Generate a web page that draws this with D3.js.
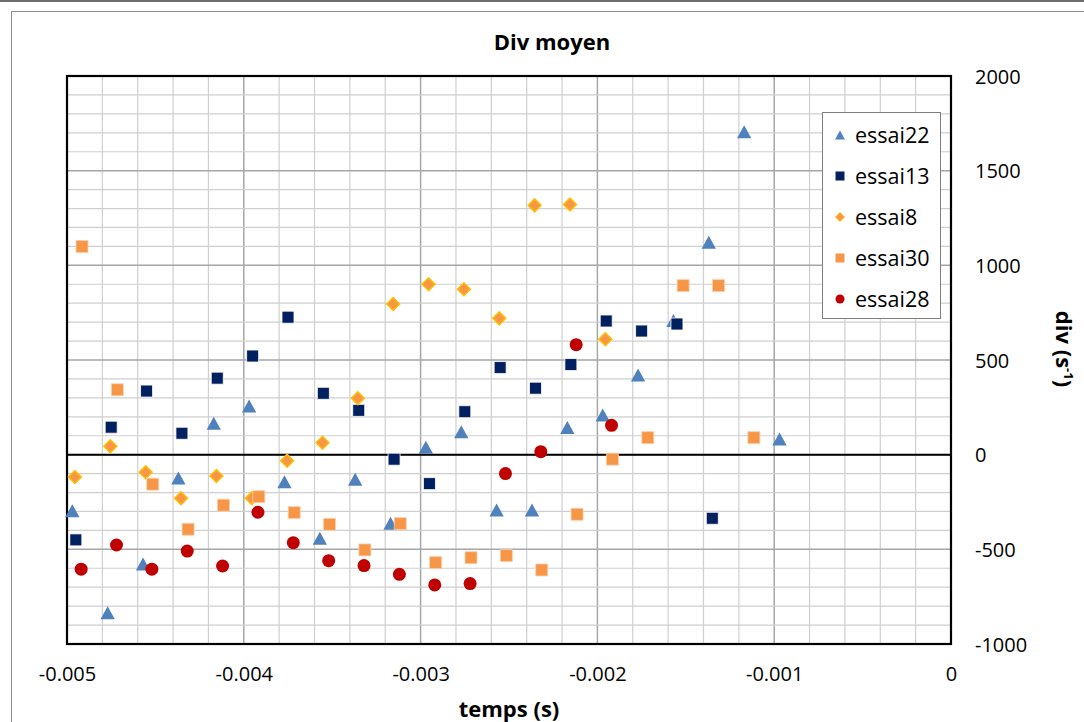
<!DOCTYPE html>
<html>
<head>
<meta charset="utf-8">
<script src="https://cdn.jsdelivr.net/npm/d3@7"></script>
<style>
  html, body { margin: 0; padding: 0; background: #ffffff; }
  svg { display: block; font-family: "Open Sans", "Noto Sans", sans-serif; }
</style>
</head>
<body>
<svg id="chart" width="1084" height="722"></svg>
<script>
// ---------- data ----------
const seriesNames = ["essai22", "essai13", "essai8", "essai30", "essai28"];

const essai22_t = [-0.00497,-0.00477,-0.00457,-0.00437,-0.00417,-0.00397,-0.00377,-0.00357,-0.00337,-0.00317,-0.00297,-0.00277,-0.00257,-0.00237,-0.00217,-0.00197,-0.00177,-0.00157,-0.00137,-0.00117,-0.00097];
const essai22_div = [-296,-835,-577,-123,166,257,-143,-442,-130,-362,39,121,-292,-292,143,210,421,708,1122,1706,83];

const essai13_t = [-0.00495,-0.00475,-0.00455,-0.00435,-0.00415,-0.00395,-0.00375,-0.00355,-0.00335,-0.00315,-0.00295,-0.00275,-0.00255,-0.00235,-0.00215,-0.00195,-0.00175,-0.00155,-0.00135];
const essai13_div = [-450,145,336,113,404,521,726,324,234,-24,-153,227,460,351,476,706,653,690,-336];

const essai8_t = [-0.004955,-0.004755,-0.004555,-0.004355,-0.004155,-0.003955,-0.003755,-0.003555,-0.003355,-0.003155,-0.002955,-0.002755,-0.002555,-0.002355,-0.002155,-0.001955];
const essai8_div = [-118,44,-93,-230,-113,-230,-32,63,298,796,900,874,720,1317,1321,610];

const essai30_t = [-0.004915,-0.004715,-0.004515,-0.004315,-0.004115,-0.003915,-0.003715,-0.003515,-0.003315,-0.003115,-0.002915,-0.002715,-0.002515,-0.002315,-0.002115,-0.001915,-0.001715,-0.001515,-0.001315,-0.001115];
const essai30_div = [1099,343,-156,-394,-267,-222,-306,-368,-503,-364,-570,-544,-533,-609,-315,-24,90,893,893,90];

const essai28_t = [-0.00492,-0.00472,-0.00452,-0.00432,-0.00412,-0.00392,-0.00372,-0.00352,-0.00332,-0.00312,-0.00292,-0.00272,-0.00252,-0.00232,-0.00212,-0.00192];
const essai28_div = [-605,-477,-605,-509,-588,-304,-465,-560,-586,-632,-688,-681,-100,16,581,155];

const xTickValues = [-0.005, -0.004, -0.003, -0.002, -0.001, 0];
const xTickLabels = ["-0.005", "-0.004", "-0.003", "-0.002", "-0.001", "0"];
const yTickValues = [-1000, -500, 0, 500, 1000, 1500, 2000];
const yTickLabels = ["-1000", "-500", "0", "500", "1000", "1500", "2000"];

const titleText = "Div moyen";
const xTitle = "temps (s)";

// ---------- layout ----------
const svg = d3.select("#chart");
const L = 67, R = 951, T = 76, B = 644;
const x = d3.scaleLinear().domain([-0.005, 0]).range([L, R]);
const y = d3.scaleLinear().domain([-1000, 2000]).range([B, T]);

// outer decoration
svg.append("rect").attr("x", 0).attr("y", 0).attr("width", 1084).attr("height", 2).attr("fill", "#6d6d6d");
svg.append("rect").attr("x", 11.5).attr("y", 11.5).attr("width", 1100).attr("height", 720)
  .attr("fill", "#fff").attr("stroke", "#8c8c8c").attr("stroke-width", 1);

// grid
const g = svg.append("g");
const xMinor = d3.range(0, 26).map(i => -0.005 + i * 0.0002);
xMinor.forEach((v, i) => {
  g.append("line").attr("x1", x(v)).attr("x2", x(v)).attr("y1", T).attr("y2", B)
    .attr("stroke", i % 5 === 0 ? "#a6a6a6" : "#cfcfcf").attr("stroke-width", i % 5 === 0 ? 1.5 : 1.2);
});
const yMinor = d3.range(-1000, 2001, 100);
yMinor.forEach(v => {
  g.append("line").attr("x1", L).attr("x2", R).attr("y1", y(v)).attr("y2", y(v))
    .attr("stroke", v % 500 === 0 ? "#a6a6a6" : "#cfcfcf").attr("stroke-width", v % 500 === 0 ? 1.5 : 1.2);
});

// zero line
g.append("line").attr("x1", L).attr("x2", R).attr("y1", y(0)).attr("y2", y(0))
  .attr("stroke", "#000").attr("stroke-width", 2);

// plot border
svg.append("rect").attr("x", L).attr("y", T).attr("width", R - L).attr("height", B - T)
  .attr("fill", "none").attr("stroke", "#000").attr("stroke-width", 2.2);

// axes (labels only, via d3 axes)
const xAxis = d3.axisBottom(x).tickValues(xTickValues).tickFormat((d, i) => xTickLabels[i]).tickSize(0).tickPadding(0);
const xg = svg.append("g").attr("transform", `translate(0, 667)`).call(xAxis);
xg.select(".domain").remove();
xg.selectAll("text").attr("font-size", 20).attr("fill", "#000").attr("dy", "0.71em")
  .attr("font-family", "'Open Sans', sans-serif");

const yAxis = d3.axisRight(y).tickValues(yTickValues).tickFormat((d, i) => yTickLabels[i]).tickSize(0).tickPadding(0);
const yg = svg.append("g").attr("transform", `translate(975, 0)`).call(yAxis);
yg.select(".domain").remove();
yg.selectAll("text").attr("font-size", 20).attr("fill", "#000").attr("dy", "0.36em")
  .attr("font-family", "'Open Sans', sans-serif");

// titles
svg.append("text").attr("x", 552).attr("y", 50).attr("text-anchor", "middle")
  .attr("font-size", 22).attr("font-weight", 700).text(titleText);
svg.append("text").attr("x", 509).attr("y", 717).attr("text-anchor", "middle")
  .attr("font-size", 22).attr("font-weight", 700).text(xTitle);
const yt = svg.append("text").attr("transform", "translate(1056, 349) rotate(90)")
  .attr("text-anchor", "middle").attr("font-size", 22).attr("font-weight", 700);
yt.append("tspan").text("div (s");
yt.append("tspan").attr("font-size", 13).attr("dy", -8).text("-1");
yt.append("tspan").attr("dy", 8).text(")");

// ---------- markers ----------
const styles = {
  essai22: { shape: "triangle", fill: "#4F81BD", stroke: "none" },
  essai13: { shape: "square", fill: "#002060", stroke: "#ffffff" },
  essai8:  { shape: "diamond", fill: "#F79646", stroke: "#FFC000" },
  essai30: { shape: "square", fill: "#F79646", stroke: "#fbd0b0" },
  essai28: { shape: "circle", fill: "#C00000", stroke: "none" }
};

function shapePath(shape, s) {
  const h = s / 2;
  if (shape === "triangle") return `M0,${-h}L${h * 1.1},${h}L${-h * 1.1},${h}Z`;
  if (shape === "square") return `M${-h},${-h}H${h}V${h}H${-h}Z`;
  if (shape === "diamond") return `M0,${-h}L${h},0L0,${h}L${-h},0Z`;
  const r = h;
  return `M${r},0A${r},${r} 0 1,1 ${-r},0A${r},${r} 0 1,1 ${r},0Z`;
}
const plotSize = { triangle: 13, square: 12, diamond: 13, circle: 13 };

const seriesData = [
  ["essai22", essai22_t, essai22_div],
  ["essai13", essai13_t, essai13_div],
  ["essai8", essai8_t, essai8_div],
  ["essai30", essai30_t, essai30_div],
  ["essai28", essai28_t, essai28_div]
];

const mg = svg.append("g");
seriesData.forEach(([name, ts, vs]) => {
  const st = styles[name];
  const pts = ts.map((t, i) => ({ t, v: vs[i] }));
  mg.append("g").selectAll("path").data(pts).join("path")
    .attr("transform", d => `translate(${x(d.t)},${y(d.v)})`)
    .attr("d", shapePath(st.shape, plotSize[st.shape]))
    .attr("fill", st.fill)
    .attr("stroke", st.stroke)
    .attr("stroke-width", st.shape === "diamond" ? 1.5 : 0.8);
});

// ---------- legend ----------
const lg = svg.append("g");
lg.append("rect").attr("x", 822.5).attr("y", 112.5).attr("width", 118).attr("height", 206)
  .attr("fill", "#fff").attr("stroke", "#7f7f7f").attr("stroke-width", 1);
const legendY = [135, 176, 217, 258, 299];
const legendSize = { triangle: 9, square: 9, diamond: 9, circle: 9 };
seriesNames.forEach((name, i) => {
  const st = styles[name];
  lg.append("path").attr("transform", `translate(840,${legendY[i]})`)
    .attr("d", shapePath(st.shape, legendSize[st.shape]))
    .attr("fill", st.fill).attr("stroke", st.stroke === "#FFC000" ? "#FFC000" : "none").attr("stroke-width", 1);
  lg.append("text").attr("x", 855).attr("y", legendY[i]).attr("dy", "0.36em")
    .attr("font-size", 21.5).attr("fill", "#000").text(name);
});
</script>
</body>
</html>
